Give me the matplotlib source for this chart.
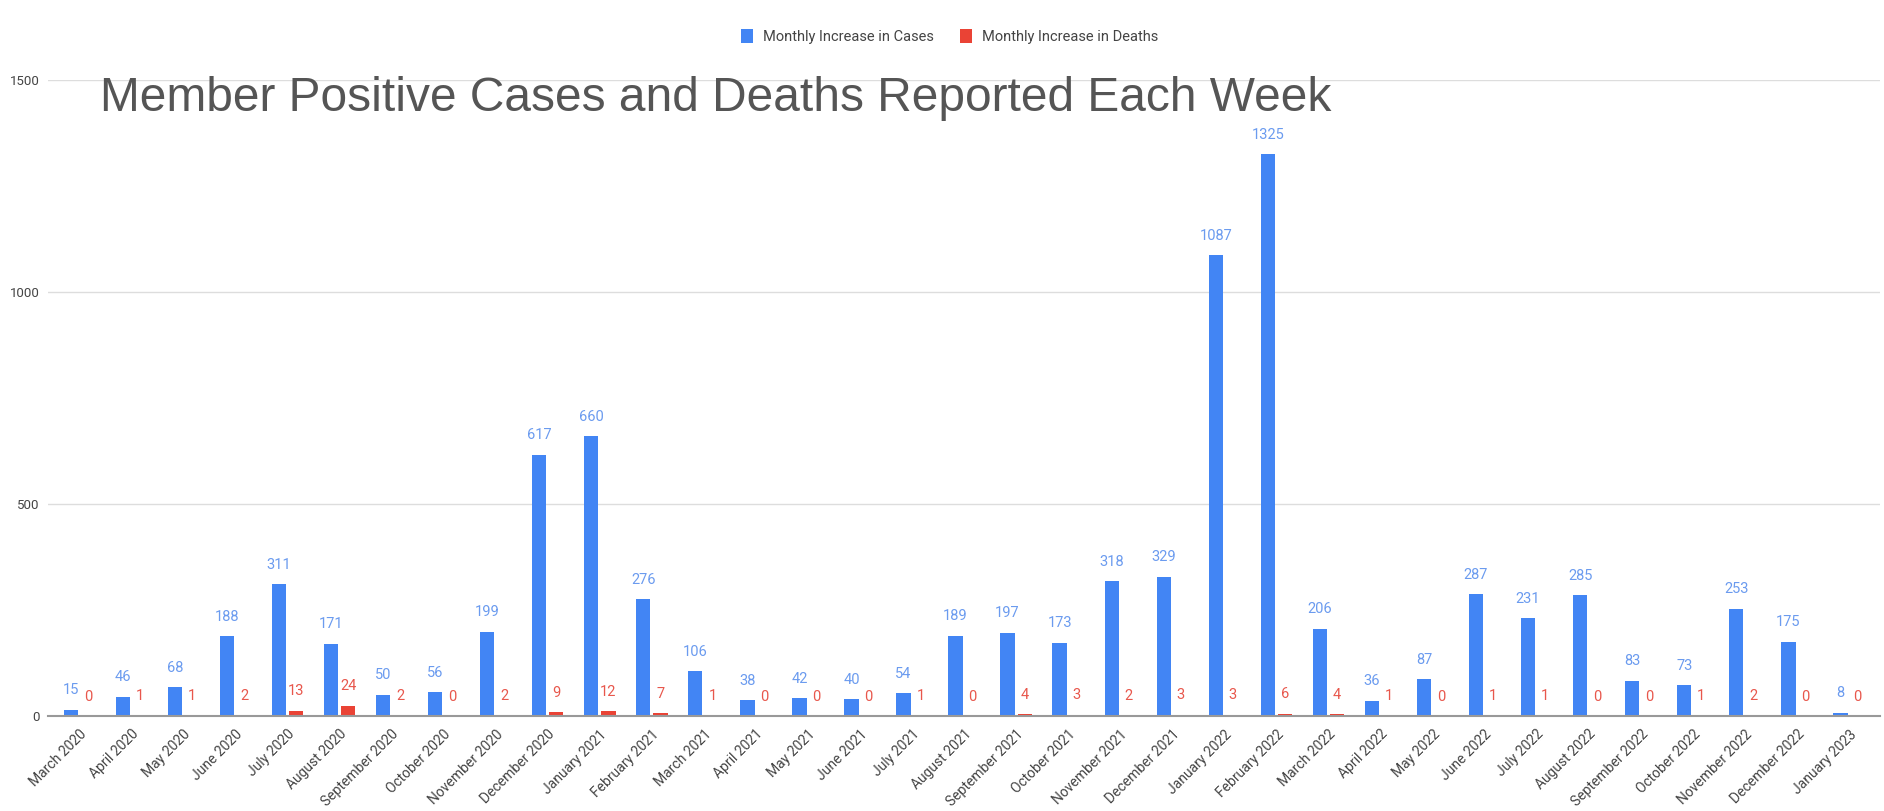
import numpy as np
import matplotlib
matplotlib.use('Agg')
import matplotlib.pyplot as plt

plt.rcParams['font.family'] = ['Roboto', 'DejaVu Sans']

# data
months = ['March 2020', 'April 2020', 'May 2020', 'June 2020', 'July 2020', 'August 2020',
          'September 2020', 'October 2020', 'November 2020', 'December 2020',
          'January 2021', 'February 2021', 'March 2021', 'April 2021', 'May 2021',
          'June 2021', 'July 2021', 'August 2021', 'September 2021', 'October 2021',
          'November 2021', 'December 2021', 'January 2022', 'February 2022',
          'March 2022', 'April 2022', 'May 2022', 'June 2022', 'July 2022',
          'August 2022', 'September 2022', 'October 2022', 'November 2022',
          'December 2022', 'January 2023']
cases = [15, 46, 68, 188, 311, 171, 50, 56, 199, 617, 660, 276, 106, 38, 42, 40, 54,
         189, 197, 173, 318, 329, 1087, 1325, 206, 36, 87, 287, 231, 285, 83, 73, 253,
         175, 8]
deaths = [0, 1, 1, 2, 13, 24, 2, 0, 2, 9, 12, 7, 1, 0, 0, 0, 1, 0, 4, 3, 2, 3, 3, 6,
          4, 1, 0, 1, 1, 0, 0, 1, 2, 0, 0]
yticks = [0, 500, 1000, 1500]

blue = '#4285F4'
red = '#EA4335'

fig = plt.figure(figsize=(18.84, 8.11), dpi=100)
ax = fig.add_axes([0.0255, 0.117, 0.9725, 0.784])

x = np.arange(len(months))
w = 0.275
off = 0.165
ax.bar(x - off, cases, width=w, color=blue, zorder=3, label='Monthly Increase in Cases')
ax.bar(x + off, deaths, width=w, color=red, zorder=3, label='Monthly Increase in Deaths')

for xi, v in zip(x, cases):
    ax.annotate(str(v), (xi - off, v), xytext=(0, 9), textcoords='offset points',
                ha='center', va='bottom', fontsize=10.5, color='#6B9BEF')
for xi, v in zip(x, deaths):
    ax.annotate(str(v), (xi + off, v), xytext=(0, 9), textcoords='offset points',
                ha='center', va='bottom', fontsize=10.5, color='#E8574C')

ax.set_xlim(-0.6, len(months) - 0.4)
ax.set_ylim(0, 1500)
ax.set_yticks(yticks)
ax.set_yticklabels([str(t) for t in yticks], fontsize=9.5, color='#444444')
ax.set_xticks(x)
ax.set_xticklabels(months, rotation=45, ha='right', rotation_mode='anchor',
                   fontsize=10, color='#444444')
ax.tick_params(axis='both', length=0, pad=6)
ax.tick_params(axis='x', pad=8)

for s in ['top', 'right', 'left']:
    ax.spines[s].set_visible(False)
ax.spines['bottom'].set_color('#999999')
ax.spines['bottom'].set_linewidth(1.5)
ax.spines['bottom'].set_zorder(4)
ax.grid(axis='y', color='#dddddd', linewidth=1, zorder=0)
ax.set_axisbelow(True)

fig.text(0.053, 0.878, 'Member Positive Cases and Deaths Reported Each Week',
         fontsize=34.5, color='#555555', va='center', ha='left',
         family=['Liberation Sans', 'DejaVu Sans'])

leg = fig.legend(loc='center', bbox_to_anchor=(0.504, 0.955), ncol=2, frameon=False,
                 fontsize=10.5, handlelength=0.8, handleheight=1.1, columnspacing=1.8,
                 handletextpad=0.7)
for t in leg.get_texts():
    t.set_color('#444444')

fig.savefig('out.png', dpi=100)
